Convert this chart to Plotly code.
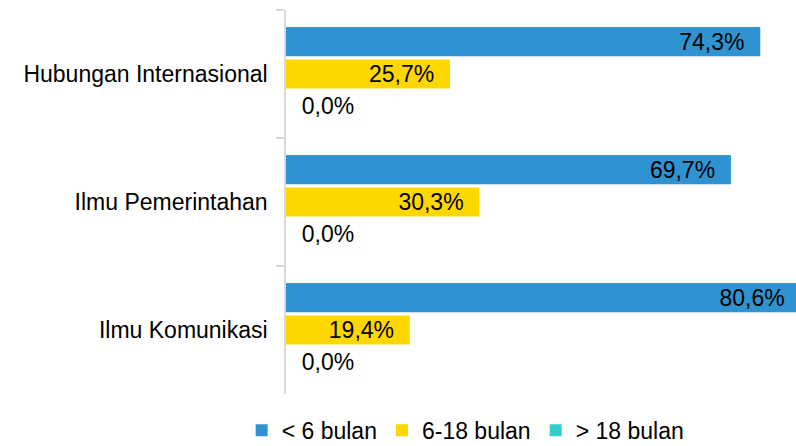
import plotly.graph_objects as go

categories = ["Hubungan Internasional", "Ilmu Pemerintahan", "Ilmu Komunikasi"]
series_names = ["< 6 bulan", "6-18 bulan", "> 18 bulan"]
lt6 = [74.3, 69.7, 80.6]
mid = [25.7, 30.3, 19.4]
gt18 = [0.0, 0.0, 0.0]
colors = ["#2E93D0", "#FFD700", "#33CCCC"]

FONT = "Liberation Sans, Arial, sans-serif"
FS = 23
NB = "\u00a0"

def fmt(v):
    return f"{v:.1f}".replace(".", ",") + "%"

fig = go.Figure()
for name, vals, col in zip(series_names, [lt6, mid, gt18], colors):
    if max(vals) > 0:
        txt = [fmt(v) + NB * 2 for v in vals]
        pos = "inside"
    else:
        txt = [NB * 2 + fmt(v) for v in vals]
        pos = "outside"
    fig.add_trace(go.Bar(
        y=categories, x=vals, name=name, orientation="h",
        marker=dict(color=col, line=dict(width=0)),
        text=txt, textposition=pos, insidetextanchor="end",
        constraintext="none", cliponaxis=True,
        textfont=dict(family=FONT, size=FS, color="#000000"),
        hoverinfo="skip",
    ))

fig.update_layout(
    width=796, height=446,
    margin=dict(l=286, r=0, t=10, b=52),
    paper_bgcolor="white", plot_bgcolor="white",
    barmode="group", bargap=0.24, bargroupgap=0.1,
    font=dict(family=FONT, size=FS, color="#000000"),
    showlegend=True,
    legend=dict(orientation="h", xref="container", yref="container",
                x=0.585, xanchor="center", y=0.035, yanchor="middle",
                font=dict(family=FONT, size=FS, color="#000000"),
                itemwidth=30, traceorder="normal"),
    xaxis=dict(range=[0, 79.9], visible=False, showgrid=False, zeroline=False),
    yaxis=dict(autorange="reversed", showline=True, linecolor="#D9D9D9", linewidth=1.5,
               ticks="outside", tickson="boundaries", ticklen=8, tickcolor="#D9D9D9",
               tickwidth=1.5, ticklabelstandoff=12, showgrid=False,
               tickfont=dict(family=FONT, size=FS, color="#000000")),
)

fig.write_html("out.html", config={"displayModeBar": False},
               post_script="document.body.style.margin='0';document.body.style.overflow='hidden';")
